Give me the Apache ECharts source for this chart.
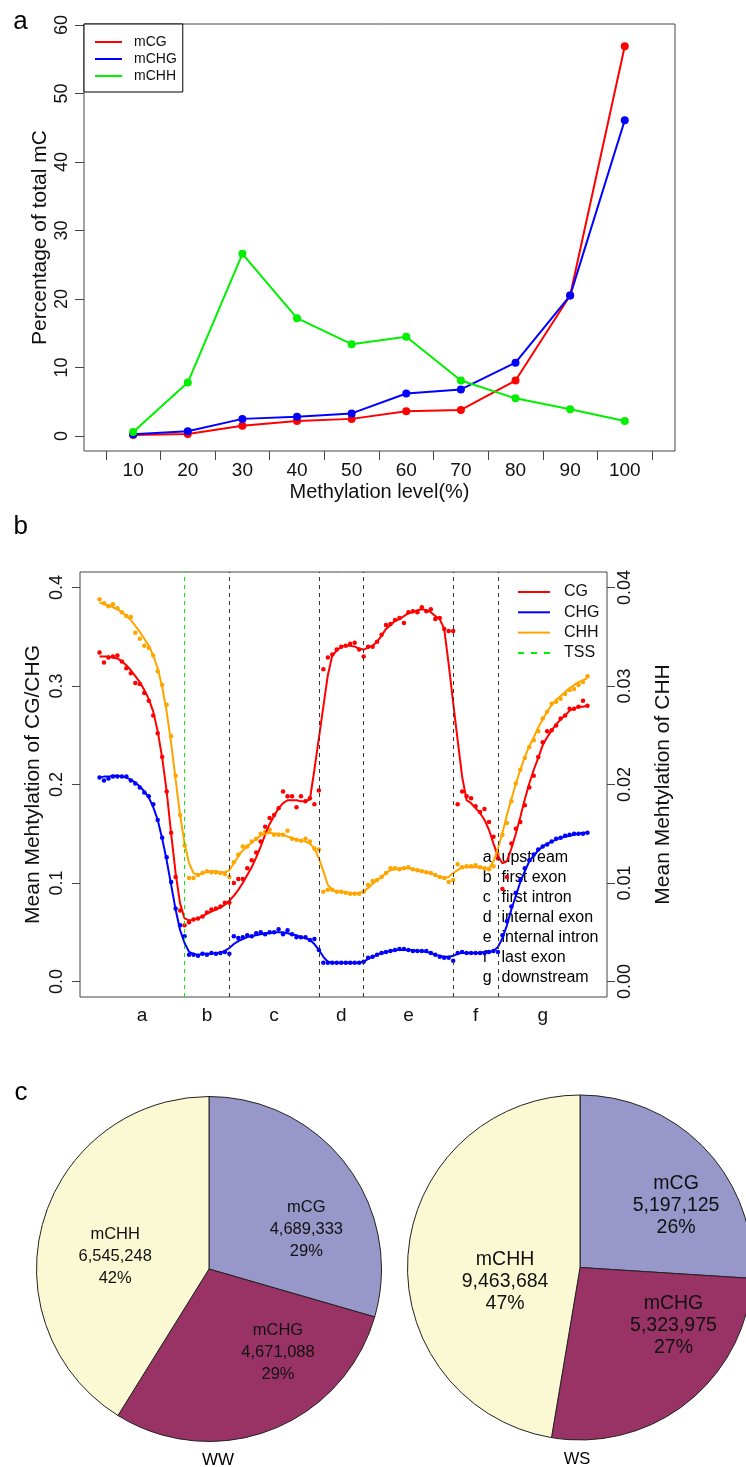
<!DOCTYPE html>
<html><head><meta charset="utf-8">
<script src="https://cdn.jsdelivr.net/npm/echarts@6/dist/echarts.min.js"></script>
<style>html,body{margin:0;padding:0;background:#fff}#c{width:746px;height:1467px}</style>
</head><body><div id="c"></div>
<script>
// ---------------- Panel a data ----------------
const levels = [10, 20, 30, 40, 50, 60, 70, 80, 90, 100];
const levelTicks = [5, 15, 25, 35, 45, 55, 65, 75, 85, 95, 105];
const pctTicks = [0, 10, 20, 30, 40, 50, 60];
const mCG  = [0.15, 0.3, 1.5, 2.2, 2.5, 3.6, 3.8, 8.1, 20.5, 56.9];
const mCHG = [0.25, 0.7, 2.5, 2.8, 3.3, 6.2, 6.8, 10.7, 20.5, 46.1];
const mCHH = [0.6, 7.8, 26.6, 17.2, 13.4, 14.5, 8.1, 5.5, 3.9, 2.2];

// ---------------- Panel b data ----------------
const regionLetters = ['a', 'b', 'c', 'd', 'e', 'f', 'g'];
const regionNames = ['upstream', 'first exon', 'first intron', 'internal exon', 'internal intron', 'last exon', 'downstream'];
const regionBounds = [1, 20, 30, 50, 60, 80, 90, 110];
const tssBin = [20];
const boundaryBins = [30, 50, 60, 80, 90];
const cgTicks = [0, 0.1, 0.2, 0.3, 0.4];
const chhTicks = [0, 0.01, 0.02, 0.03, 0.04];

const cgDots = [0.334,0.324,0.329,0.330,0.331,0.325,0.318,0.313,0.303,0.302,
 0.293,0.285,0.270,0.252,0.228,0.193,0.151,0.106,0.072,0.057,
 0.060,0.063,0.064,0.066,0.070,0.073,0.074,0.076,0.080,0.080,
 0.100,0.104,0.104,0.115,0.123,0.131,0.142,0.157,0.166,0.169,
 0.176,0.193,0.188,0.188,0.177,0.188,0.183,0.186,0.180,0.194,
 0.317,0.329,0.332,0.337,0.340,0.341,0.343,0.344,0.337,0.330,
 0.340,0.340,0.345,0.352,0.362,0.363,0.367,0.369,0.364,0.375,
 0.376,0.375,0.380,0.376,0.378,0.368,0.369,0.358,0.356,0.356,
 0.180,0.193,0.188,0.186,0.178,0.172,0.175,0.162,0.147,0.125,
 0.094,0.106,0.140,0.155,0.162,0.179,0.197,0.209,0.228,0.243,
 0.254,0.255,0.260,0.267,0.270,0.277,0.277,0.279,0.285,0.280];
const cgLine = [0.330,0.330,0.330,0.329,0.328,0.325,0.321,0.316,0.310,0.304,
 0.296,0.287,0.274,0.254,0.227,0.193,0.150,0.110,0.079,0.064,
 0.062,0.063,0.064,0.066,0.069,0.071,0.073,0.075,0.078,0.082,
 0.087,0.093,0.100,0.108,0.116,0.126,0.137,0.149,0.160,0.168,
 0.176,0.181,0.184,0.184,0.184,0.183,0.183,0.185,0.215,0.247,
 0.279,0.311,0.331,0.336,0.340,0.341,0.341,0.340,0.338,0.337,
 0.339,0.341,0.345,0.351,0.358,0.362,0.366,0.368,0.371,0.374,
 0.375,0.377,0.378,0.377,0.375,0.371,0.368,0.358,0.322,0.283,
 0.245,0.208,0.184,0.181,0.176,0.171,0.164,0.154,0.140,0.127,
 0.120,0.122,0.135,0.150,0.167,0.185,0.201,0.215,0.227,0.240,
 0.248,0.255,0.261,0.266,0.270,0.275,0.277,0.279,0.279,0.280];
const chgDots = [0.207,0.204,0.206,0.208,0.208,0.208,0.208,0.204,0.201,0.197,
 0.192,0.188,0.180,0.164,0.146,0.126,0.101,0.074,0.057,0.046,
 0.027,0.027,0.026,0.028,0.027,0.029,0.028,0.029,0.030,0.028,
 0.046,0.044,0.045,0.047,0.046,0.049,0.050,0.048,0.050,0.050,
 0.053,0.048,0.052,0.048,0.045,0.045,0.045,0.042,0.043,0.032,
 0.019,0.019,0.019,0.019,0.019,0.019,0.019,0.019,0.019,0.020,
 0.024,0.025,0.027,0.029,0.030,0.031,0.032,0.033,0.033,0.032,
 0.031,0.031,0.031,0.031,0.029,0.027,0.025,0.024,0.024,0.021,
 0.029,0.030,0.029,0.029,0.029,0.029,0.029,0.030,0.031,0.030,
 0.047,0.061,0.076,0.090,0.103,0.115,0.123,0.129,0.134,0.137,
 0.139,0.142,0.145,0.146,0.148,0.149,0.150,0.150,0.150,0.151];
const chgLine = [0.207,0.208,0.208,0.209,0.209,0.208,0.207,0.205,0.202,0.198,
 0.193,0.187,0.177,0.164,0.145,0.123,0.098,0.073,0.052,0.039,
 0.030,0.028,0.027,0.028,0.028,0.028,0.029,0.029,0.031,0.034,
 0.038,0.041,0.043,0.045,0.046,0.047,0.048,0.049,0.049,0.050,
 0.050,0.050,0.049,0.048,0.047,0.045,0.044,0.042,0.038,0.032,
 0.025,0.020,0.019,0.019,0.019,0.019,0.019,0.019,0.019,0.020,
 0.023,0.025,0.027,0.029,0.030,0.031,0.032,0.032,0.032,0.032,
 0.032,0.031,0.031,0.030,0.029,0.027,0.026,0.025,0.025,0.026,
 0.028,0.029,0.029,0.029,0.029,0.029,0.030,0.030,0.031,0.035,
 0.044,0.057,0.073,0.087,0.101,0.112,0.122,0.128,0.133,0.137,
 0.140,0.142,0.144,0.146,0.147,0.148,0.149,0.150,0.151,0.151];
const chhDots = [0.0388,0.0384,0.0381,0.0383,0.0379,0.0375,0.0371,0.0370,0.0354,0.0348,
 0.0341,0.0339,0.0331,0.0315,0.0301,0.0281,0.0249,0.0209,0.0169,0.0138,
 0.0105,0.0105,0.0108,0.0110,0.0112,0.0111,0.0111,0.0110,0.0109,0.0106,
 0.0121,0.0129,0.0137,0.0137,0.0142,0.0145,0.0150,0.0152,0.0154,0.0149,
 0.0149,0.0149,0.0153,0.0145,0.0144,0.0143,0.0145,0.0142,0.0135,0.0134,
 0.0091,0.0093,0.0093,0.0091,0.0091,0.0090,0.0089,0.0089,0.0089,0.0091,
 0.0098,0.0102,0.0103,0.0106,0.0110,0.0115,0.0115,0.0114,0.0115,0.0116,
 0.0114,0.0113,0.0112,0.0111,0.0110,0.0108,0.0106,0.0105,0.0101,0.0103,
 0.0119,0.0116,0.0117,0.0117,0.0118,0.0116,0.0115,0.0114,0.0117,0.0129,
 0.0149,0.0161,0.0183,0.0201,0.0215,0.0227,0.0238,0.0245,0.0254,0.0267,
 0.0274,0.0282,0.0284,0.0287,0.0292,0.0296,0.0297,0.0301,0.0304,0.0310];
const chhLine = [0.0385,0.0383,0.0382,0.0380,0.0378,0.0375,0.0371,0.0367,0.0361,0.0355,
 0.0348,0.0341,0.0331,0.0318,0.0299,0.0274,0.0242,0.0205,0.0169,0.0140,
 0.0120,0.0110,0.0108,0.0110,0.0111,0.0112,0.0112,0.0111,0.0111,0.0113,
 0.0120,0.0127,0.0133,0.0137,0.0141,0.0145,0.0148,0.0150,0.0151,0.0150,
 0.0150,0.0149,0.0147,0.0146,0.0144,0.0143,0.0142,0.0140,0.0135,0.0125,
 0.0112,0.0098,0.0093,0.0091,0.0091,0.0090,0.0090,0.0089,0.0090,0.0091,
 0.0095,0.0099,0.0103,0.0106,0.0110,0.0113,0.0114,0.0115,0.0115,0.0115,
 0.0114,0.0113,0.0112,0.0111,0.0110,0.0108,0.0106,0.0105,0.0106,0.0110,
 0.0113,0.0116,0.0116,0.0116,0.0116,0.0116,0.0115,0.0115,0.0122,0.0135,
 0.0151,0.0169,0.0185,0.0201,0.0215,0.0228,0.0239,0.0248,0.0258,0.0266,
 0.0274,0.0281,0.0286,0.0290,0.0294,0.0298,0.0301,0.0304,0.0306,0.0308];

// ---------------- Panel c data ----------------
const pieNames = ['mCG', 'mCHG', 'mCHH'];
const wwValues = [4689333, 4671088, 6545248];
const wwPct = [29, 29, 42];
const wsValues = [5197125, 5323975, 9463684];
const wsPct = [26, 27, 47];

// ---------------- styling ----------------
const FONT = '"Liberation Sans", Arial, sans-serif';
const BOX = '#444';
const GREEN = '#00f000';
const pieColors = ['#9797C9', '#993366', '#FBF9D3'];
const wwNudge = [[26, 14], [37, 0], [-8, 12]];
const wsNudge = [[31, -1], [38, -12], [14, 22]];

function hasFont(name) {
  const c = document.createElement('canvas').getContext('2d');
  const s = 'mCHH 4,689,333 29%';
  c.font = '40px monospace';
  const w1 = c.measureText(s).width;
  c.font = '40px "' + name + '", monospace';
  return Math.abs(c.measureText(s).width - w1) > 0.5;
}
const narrow = hasFont('Liberation Sans Narrow');
const wwFont = narrow ? {fontFamily: '"Liberation Sans Narrow"', fontSize: 19.5} : {fontFamily: FONT, fontSize: 16.5};

const bins = cgDots.map((_, i) => i + 1);
const pairs = arr => arr.map((v, i) => [bins[i], v]);
const regionCenters = regionLetters.map((_, i) => (regionBounds[i] + regionBounds[i + 1]) / 2);
const letterAt = v => regionLetters[regionCenters.findIndex(c => Math.abs(c - v) < 1e-6)] || '';

const chart = echarts.init(document.getElementById('c'), null, {renderer: 'canvas'});

const lineA = (name, vals, color) => ({
  name, type: 'line', xAxisIndex: 0, yAxisIndex: 0,
  data: levels.map((x, i) => [x, vals[i]]),
  symbol: 'circle', symbolSize: 8, showSymbol: true,
  lineStyle: {width: 2, color}, itemStyle: {color}, color, silent: true
});
const lineB = (name, vals, color, yi) => ({
  name, type: 'line', xAxisIndex: 1, yAxisIndex: yi, data: pairs(vals),
  showSymbol: false, symbol: 'none', lineStyle: {width: 2, color}, itemStyle: {color}, color, silent: true
});
const dotsB = (name, vals, color, yi) => ({
  name, type: 'scatter', xAxisIndex: 1, yAxisIndex: yi, data: pairs(vals),
  symbol: 'circle', symbolSize: 4.5, itemStyle: {color, opacity: 1}, color, silent: true
});

const pieSeries = (name, center, values, pct, nudge, fontCfg) => ({
  name, type: 'pie', center, radius: 172.5, startAngle: 90, clockwise: true,
  silent: true, avoidLabelOverlap: false,
  itemStyle: {borderColor: '#222', borderWidth: 1},
  label: {show: true, position: 'inside', color: '#111', lineHeight: 22, align: 'center',
          fontFamily: fontCfg.fontFamily, fontSize: fontCfg.fontSize},
  labelLine: {show: false},
  data: pieNames.map((n, i) => ({
    name: n, value: values[i],
    itemStyle: {color: pieColors[i]},
    label: {offset: nudge[i],
      formatter: () => n + '\n' + values[i].toLocaleString('en-US') + '\n' + pct[i] + '%'}
  }))
});

const gtext = (x, y, text, size, align, extra) => Object.assign({
  type: 'text', x, y, silent: true,
  style: {text, fontSize: size, fontFamily: FONT, fill: '#000', align: align || 'center',
          verticalAlign: 'middle', textAlign: align || 'center', textVerticalAlign: 'middle'}
}, extra || {});

const graphic = [
  gtext(20.5, 21.5, 'a', 26),
  gtext(20.7, 526.5, 'b', 26),
  gtext(21, 1093, 'c', 26),
  gtext(218, 1460, 'WW', 17),
  gtext(577, 1459, 'WS', 16.5)
];
regionLetters.forEach((l, k) => {
  graphic.push(gtext(482.7, 857.7 + 20 * k, l, 16, 'left'));
  graphic.push(gtext(501.5, 857.7 + 20 * k, regionNames[k], 16, 'left'));
});

const option = {
  animation: false,
  backgroundColor: '#fff',
  textStyle: {fontFamily: FONT, color: '#000'},
  grid: [
    {left: 84, top: 24, width: 591, height: 427, show: true, borderColor: BOX, borderWidth: 1,
     backgroundColor: 'transparent', containLabel: false, outerBoundsMode: 'none'},
    {left: 80, top: 572, width: 527, height: 425, show: true, borderColor: BOX, borderWidth: 1,
     backgroundColor: 'transparent', containLabel: false, outerBoundsMode: 'none'}
  ],
  xAxis: [
    {gridIndex: 0, type: 'value', min: 1, max: 109.2, position: 'bottom',
     axisLine: {show: false, onZero: false}, splitLine: {show: false},
     axisTick: {show: true, customValues: levelTicks, length: 9, lineStyle: {color: BOX, width: 1}},
     axisLabel: {show: true, customValues: levels, fontSize: 19, margin: 10, color: '#111'},
     name: 'Methylation level(%)', nameLocation: 'middle', nameGap: 31, nameMoveOverlap: false,
     nameTextStyle: {fontSize: 20, color: '#111'}},
    {gridIndex: 1, type: 'value', min: -3.36, max: 114.36, position: 'bottom',
     axisLine: {show: false, onZero: false}, splitLine: {show: false}, axisTick: {show: false},
     axisLabel: {show: true, customValues: regionCenters, formatter: letterAt, fontSize: 19, margin: 9, color: '#111'}}
  ],
  yAxis: [
    {gridIndex: 0, type: 'value', min: -2.19, max: 60.15, position: 'left',
     axisLine: {show: false, onZero: false}, splitLine: {show: false},
     axisTick: {show: true, customValues: pctTicks, length: 9, lineStyle: {color: BOX}},
     axisLabel: {show: true, customValues: pctTicks, rotate: 90, fontSize: 18, margin: 13, color: '#111'},
     name: 'Percentage of total mC', nameLocation: 'middle', nameRotate: 90, nameGap: 33, nameMoveOverlap: false,
     nameTextStyle: {fontSize: 21, color: '#111'}},
    {gridIndex: 1, type: 'value', min: -0.0158, max: 0.4158, position: 'left',
     axisLine: {show: false, onZero: false}, splitLine: {show: false},
     axisTick: {show: true, customValues: cgTicks, length: 8, lineStyle: {color: BOX}},
     axisLabel: {show: true, customValues: cgTicks, rotate: 90, fontSize: 18, margin: 14, color: '#111',
                 formatter: v => v.toFixed(1)},
     name: 'Mean Mehtylation of CG/CHG', nameLocation: 'middle', nameRotate: 90, nameGap: 36, nameMoveOverlap: false,
     nameTextStyle: {fontSize: 21, color: '#111'}},
    {gridIndex: 1, type: 'value', min: -0.00158, max: 0.04158, position: 'right',
     axisLine: {show: false, onZero: false}, splitLine: {show: false},
     axisTick: {show: true, customValues: chhTicks, length: 8, lineStyle: {color: BOX}},
     axisLabel: {show: true, customValues: chhTicks, rotate: 90, fontSize: 18, margin: 9, color: '#111',
                 formatter: v => v.toFixed(2)},
     name: 'Mean Mehtylation of CHH', nameLocation: 'middle', nameRotate: 90, nameGap: 46, nameMoveOverlap: false,
     nameTextStyle: {fontSize: 21, color: '#111'}}
  ],
  legend: [
    {data: [{name: 'mCG', icon: 'rect'}, {name: 'mCHG', icon: 'rect'}, {name: 'mCHH', icon: 'rect'}],
     left: 84, top: 24, orient: 'vertical', itemWidth: 27, itemHeight: 2, itemGap: 3,
     padding: [11, 6, 9, 11], borderColor: '#000', borderWidth: 1, backgroundColor: '#fff',
     selectedMode: false, textStyle: {fontSize: 14, color: '#111', padding: [0, 0, 0, 7]}},
    {data: [{name: 'CG', icon: 'rect'}, {name: 'CHG', icon: 'rect'}, {name: 'CHH', icon: 'rect'},
            {name: 'TSS', icon: 'path://M0,0H6V2H0Z M13,0H19V2H13Z M26,0H32V2H26Z'}],
     left: 518, top: 584, orient: 'vertical', itemWidth: 32, itemHeight: 2, itemGap: 4.3,
     padding: 0, selectedMode: false, textStyle: {fontSize: 16, color: '#111', padding: [0, 0, 0, 9]}}
  ],
  graphic,
  series: [
    lineA('mCG', mCG, '#ff0000'),
    lineA('mCHG', mCHG, '#0000ff'),
    lineA('mCHH', mCHH, GREEN),
    {name: 'bounds', type: 'line', xAxisIndex: 1, yAxisIndex: 1, data: [], silent: true,
     markLine: {silent: true, symbol: ['none', 'none'], label: {show: false},
                lineStyle: {type: [4, 4], color: '#333', width: 1},
                emphasis: {disabled: true},
                data: boundaryBins.map(b => ({xAxis: b}))}},
    {name: 'TSS', type: 'line', xAxisIndex: 1, yAxisIndex: 1, data: [], silent: true, color: GREEN,
     itemStyle: {color: GREEN}, lineStyle: {color: GREEN},
     markLine: {silent: true, symbol: ['none', 'none'], label: {show: false},
                lineStyle: {type: [4, 4], color: GREEN, width: 1},
                emphasis: {disabled: true},
                data: tssBin.map(b => ({xAxis: b}))}},
    dotsB('CG dots', cgDots, '#ff0000', 1),
    lineB('CG', cgLine, '#ff0000', 1),
    dotsB('CHG dots', chgDots, '#0000ff', 1),
    lineB('CHG', chgLine, '#0000ff', 1),
    dotsB('CHH dots', chhDots, '#ffa500', 2),
    lineB('CHH', chhLine, '#ffa500', 2),
    pieSeries('WW', [209, 1269], wwValues, wwPct, wwNudge, wwFont),
    pieSeries('WS', [580, 1267.5], wsValues, wsPct, wsNudge, {fontFamily: FONT, fontSize: 19.5})
  ]
};
chart.setOption(option);
</script>
</body></html>
